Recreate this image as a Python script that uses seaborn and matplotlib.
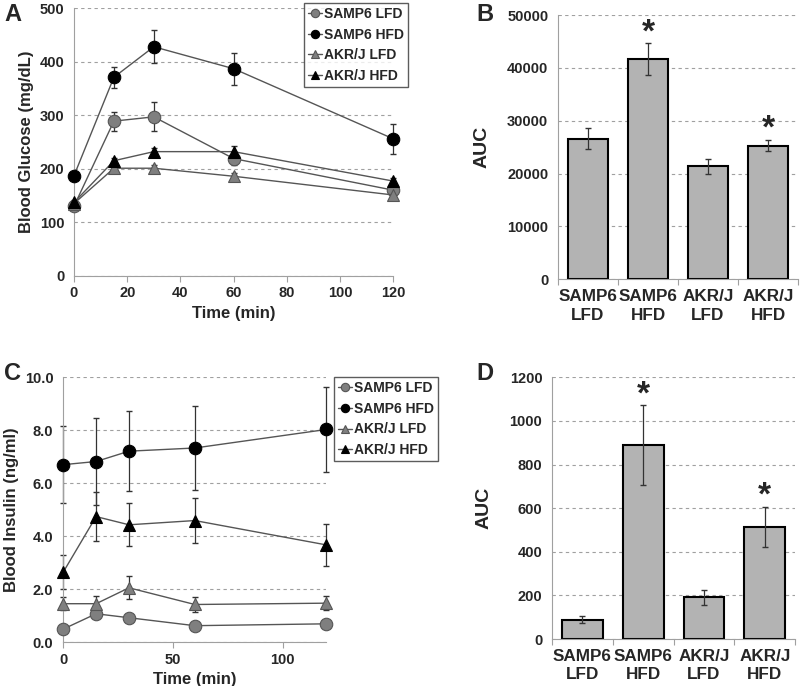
import numpy as np
import pandas as pd
import matplotlib
matplotlib.use("Agg")
import matplotlib.pyplot as plt
import seaborn as sns

sns.set_style("white")
plt.rcParams['font.family'] = ['Liberation Sans', 'DejaVu Sans']
plt.rcParams['font.weight'] = 'bold'

# ---- data ----
times = [0, 15, 30, 60, 120]
groups = ['SAMP6 LFD', 'SAMP6 HFD', 'AKR/J LFD', 'AKR/J HFD']
bar_labels = ['SAMP6\nLFD', 'SAMP6\nHFD', 'AKR/J\nLFD', 'AKR/J\nHFD']

# A: glucose (mg/dL)
glu_samp6_lfd = [130, 289, 297, 219, 160]
glu_samp6_lfd_err = [5, 18, 27, 12, 8]
glu_samp6_hfd = [187, 371, 428, 387, 256]
glu_samp6_hfd_err = [6, 20, 31, 30, 28]
glu_akr_lfd = [135, 201, 201, 186, 151]
glu_akr_lfd_err = [4, 6, 6, 6, 5]
glu_akr_hfd = [137, 215, 232, 232, 177]
glu_akr_hfd_err = [4, 6, 6, 10, 6]

# B: glucose AUC
auc_glu = [26600, 41700, 21400, 25300]
auc_glu_err = [1950, 2970, 1420, 1040]
auc_glu_sig = [False, True, False, True]

# C: insulin (ng/ml)
ins_samp6_lfd = [0.49, 1.07, 0.92, 0.62, 0.69]
ins_samp6_lfd_err = [0.08, 0.12, 0.1, 0.08, 0.08]
ins_samp6_hfd = [6.70, 6.82, 7.21, 7.33, 8.03]
ins_samp6_hfd_err = [1.45, 1.63, 1.51, 1.58, 1.6]
ins_akr_lfd = [1.45, 1.45, 2.05, 1.42, 1.47]
ins_akr_lfd_err = [0.25, 0.3, 0.44, 0.3, 0.27]
ins_akr_hfd = [2.64, 4.74, 4.43, 4.59, 3.67]
ins_akr_hfd_err = [0.65, 0.93, 0.81, 0.84, 0.8]

# D: insulin AUC
auc_ins = [89, 889, 191, 513]
auc_ins_err = [15, 183, 33, 93]
auc_ins_sig = [False, True, False, True]

GRAY = '#7f7f7f'
styles = {
    'SAMP6 LFD': dict(marker='o', color=GRAY, mec='#555555'),
    'SAMP6 HFD': dict(marker='o', color='black', mec='black'),
    'AKR/J LFD': dict(marker='^', color=GRAY, mec='#555555'),
    'AKR/J HFD': dict(marker='^', color='black', mec='black'),
}

fig = plt.figure(figsize=(8, 6.86), dpi=100)
axA = fig.add_axes([0.0925, 0.598, 0.399, 0.39])
axB = fig.add_axes([0.6975, 0.593, 0.30, 0.385])
axC = fig.add_axes([0.079, 0.064, 0.329, 0.386])
axD = fig.add_axes([0.69, 0.0685, 0.304, 0.3815])


def unclip(cont):
    for part in cont.lines:
        if part is None:
            continue
        items = part if isinstance(part, (tuple, list)) else [part]
        for it in items:
            it.set_clip_on(False)


def style_axes(ax):
    for s in ['top', 'right']:
        ax.spines[s].set_visible(False)
    ax.spines['left'].set_color('#a0a0a0')
    ax.spines['bottom'].set_color('#a0a0a0')
    ax.yaxis.grid(True, linestyle=(0, (3, 3)), color='#a0a0a0', linewidth=0.8)
    ax.set_axisbelow(True)
    ax.tick_params(axis='x', direction='out', length=4, color='#a0a0a0',
                   bottom=True, labelsize=10.5)
    ax.tick_params(axis='y', left=False, labelsize=10.5)
    for lab in ax.get_xticklabels() + ax.get_yticklabels():
        lab.set_fontweight('bold')


def line_panel(ax, series, ylabel, ylim, yticks, xticks, fmt):
    rows = []
    for g, (vals, errs) in series.items():
        for t, v, e in zip(times, vals, errs):
            rows.append(dict(time=t, value=v, err=e, group=g))
    df = pd.DataFrame(rows)
    for g in groups:
        sub = df[df.group == g]
        st = styles[g]
        eb = ax.errorbar(sub.time, sub.value, yerr=sub.err, fmt='none',
                         ecolor='#333333', elinewidth=0.9, capsize=2.5,
                         zorder=2)
        unclip(eb)
        sns.lineplot(data=sub, x='time', y='value', ax=ax, color='#555555',
                     linewidth=1.0, marker=st['marker'], markersize=9,
                     markerfacecolor=st['color'], markeredgecolor=st['mec'],
                     markeredgewidth=0.8, label=g, zorder=3)
    ax.set_xlim(0, 120)
    ax.set_ylim(*ylim)
    ax.set_yticks(yticks)
    ax.set_yticklabels([fmt.format(v) for v in yticks])
    ax.set_xticks(xticks)
    ax.set_xlabel('Time (min)', fontsize=12, fontweight='bold')
    ax.set_ylabel(ylabel, fontsize=12, fontweight='bold')
    for ln in ax.lines:
        ln.set_clip_on(False)
    style_axes(ax)


def bar_panel(ax, vals, errs, sig, ylim, yticks):
    df = pd.DataFrame(dict(group=bar_labels, value=vals))
    sns.barplot(data=df, x='group', y='value', ax=ax, color='#b3b3b3',
                edgecolor='black', linewidth=1.5, width=0.67, saturation=1)
    ax.errorbar(range(len(vals)), vals, yerr=errs, fmt='none',
                ecolor='#333333', elinewidth=0.9, capsize=2.5)
    for i, (v, e, s) in enumerate(zip(vals, errs, sig)):
        if s:
            ax.annotate('*', xy=(i, v + e), xytext=(0, 1.5),
                        textcoords='offset points', ha='center',
                        va='baseline', fontsize=24, fontweight='bold')
    ax.set_xlim(-0.5, 3.5)
    ax.set_ylim(*ylim)
    ax.set_yticks(yticks)
    ax.set_xlabel('')
    ax.set_ylabel('AUC', fontsize=14, fontweight='bold', labelpad=12)
    ax.set_xticks([-0.5, 0.5, 1.5, 2.5, 3.5], minor=False)
    ax.set_xticklabels([])
    ax.set_xticks(range(4), minor=True)
    ax.set_xticklabels(bar_labels, minor=True)
    ax.tick_params(axis='x', which='minor', length=0, pad=7)
    style_axes(ax)
    for lab in ax.get_xticklabels(minor=True):
        lab.set_fontweight('bold')
        lab.set_fontsize(12.3)
        lab.set_linespacing(1.3)


line_panel(axA,
           {'SAMP6 LFD': (glu_samp6_lfd, glu_samp6_lfd_err),
            'SAMP6 HFD': (glu_samp6_hfd, glu_samp6_hfd_err),
            'AKR/J LFD': (glu_akr_lfd, glu_akr_lfd_err),
            'AKR/J HFD': (glu_akr_hfd, glu_akr_hfd_err)},
           'Blood Glucose (mg/dL)', (0, 500), range(0, 501, 100),
           range(0, 121, 20), '{:d}')
line_panel(axC,
           {'SAMP6 LFD': (ins_samp6_lfd, ins_samp6_lfd_err),
            'SAMP6 HFD': (ins_samp6_hfd, ins_samp6_hfd_err),
            'AKR/J LFD': (ins_akr_lfd, ins_akr_lfd_err),
            'AKR/J HFD': (ins_akr_hfd, ins_akr_hfd_err)},
           'Blood Insulin (ng/ml)', (0, 10), np.arange(0, 10.1, 2),
           [0, 50, 100], '{:.1f}')

for ax, anchor in [(axA, (0.51, 0.996)), (axC, (0.5475, 0.4505))]:
    h, l = ax.get_legend_handles_labels()
    leg = ax.legend(h, l, loc='upper right', bbox_to_anchor=anchor,
                    bbox_transform=fig.transFigure, frameon=True,
                    fancybox=False, edgecolor='#333333', handlelength=1.0,
                    handletextpad=0.12, borderpad=0.3, labelspacing=0.48,
                    borderaxespad=0, prop=dict(weight='bold', size=10))
    leg.get_frame().set_linewidth(1.0)
    for hd in leg.legend_handles:
        hd.set_markersize(6)

bar_panel(axB, auc_glu, auc_glu_err, auc_glu_sig, (0, 50000),
          range(0, 50001, 10000))
bar_panel(axD, auc_ins, auc_ins_err, auc_ins_sig, (0, 1200),
          range(0, 1201, 200))

for txt, x, y in [('A', 0.005, 0.995), ('B', 0.595, 0.995),
                  ('C', 0.005, 0.472), ('D', 0.595, 0.472)]:
    fig.text(x, y, txt, fontsize=17, fontweight='bold', va='top')

fig.savefig('out.png', dpi=100)
